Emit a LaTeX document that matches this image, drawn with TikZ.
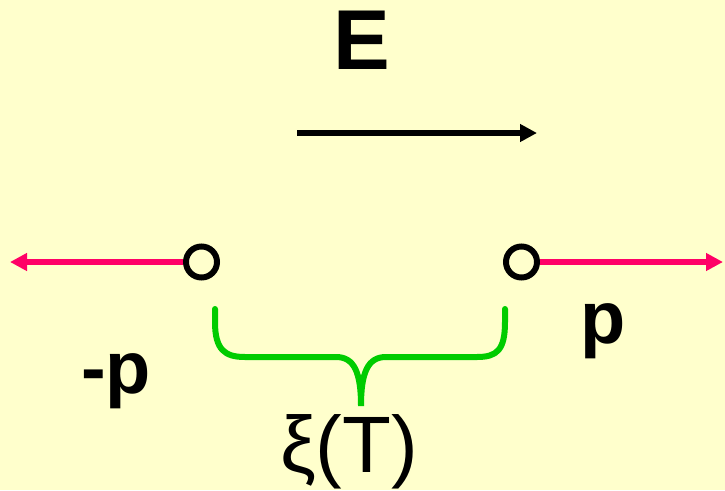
\documentclass[tikz,border=0pt]{standalone}
\usepackage{fontspec}
\setmainfont{Liberation Sans}
\usetikzlibrary{arrows.meta}
\definecolor{paper}{HTML}{FFFFCC}
\definecolor{dipole}{HTML}{FF0066}
\definecolor{bracegreen}{HTML}{00CC00}

\begin{document}
\begin{tikzpicture}[
  x=1pt,
  y=-1pt,
  >={Triangle[length=17pt,width=17pt]},
  charge/.style={circle,draw=black,line width=6pt,minimum size=31pt,inner sep=0pt},
  moment/.style={->,draw=dipole,line width=6pt},
  field/.style={->,draw=black,line width=6pt},
  bold label/.style={font=\bfseries\fontsize{74}{80}\selectfont,inner sep=0pt,anchor=base},
  plain label/.style={font=\fontsize{80}{86}\selectfont,inner sep=0pt,anchor=base}
]
  \useasboundingbox[fill=paper] (0,0) rectangle (725,490);

  % Applied field E, pointing to the right.
  \node[bold label,font=\bfseries\fontsize{85}{90}\selectfont] (E) at (362,69) {E};
  \coordinate (field start) at (297,133);
  \coordinate (field end) at (537,133);
  \draw[field] (field start) -- (field end);

  % The two charges and their moments -p and p.
  \node[charge] (neg) at (201.5,262) {};
  \node[charge] (pos) at (521.5,262) {};
  \coordinate (far left) at (10,262);
  \coordinate (far right) at (723,262);
  \draw[moment] (neg.west) -- (far left);
  \draw[moment] (pos.east) -- (far right);
  \node[bold label] (pminus) at (116,393) {-p};
  \node[bold label] (pplus) at (603,343) {p};

  % Brace spanning the separation, labelled xi(T).
  \draw[bracegreen,line width=6pt,line cap=round]
    (215,309) -- (215,322) .. controls (215,350) and (225,357) .. (245,357)
    -- (336,357) .. controls (354,357) and (361,372) .. (361,406)
    .. controls (361,372) and (368,357) .. (386,357)
    -- (477,357) .. controls (497,357) and (505,350) .. (505,322) -- (505,309);
  \node[plain label] (xi) at (349,472) {ξ(T)};
\end{tikzpicture}
\end{document}
